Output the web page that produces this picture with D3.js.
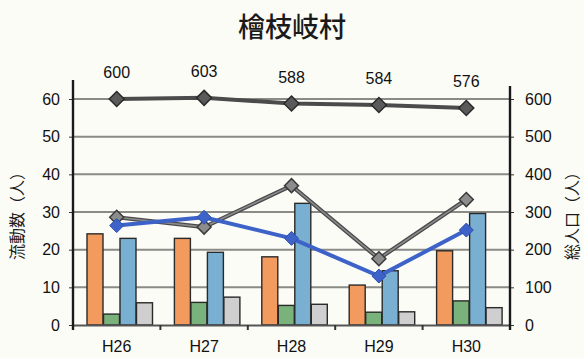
<!DOCTYPE html>
<html>
<head>
<meta charset="utf-8">
<script src="https://cdn.jsdelivr.net/npm/d3@7"></script>
<style>
  html, body { margin: 0; padding: 0; background: #fcfcf7; }
  svg { display: block; }
  .num { font-family: "Liberation Sans Narrow", "Liberation Sans", Arial, sans-serif; fill: #111; }
  .jp { font-family: "Noto Sans CJK JP", sans-serif; fill: #1a1a1a; }
</style>
</head>
<body>
<svg id="chart" width="584" height="358"></svg>
<script>
// 年度
const years = ["H26", "H27", "H28", "H29", "H30"];
// 流動数（人）— 棒グラフ 4 系列
const barOrange = [24.2, 23.0, 18.1, 10.6, 19.7];
const barGreen  = [2.9, 6.0, 5.2, 3.4, 6.4];
const barBlue   = [23.0, 19.3, 32.3, 14.4, 29.6];
const barGray   = [5.9, 7.4, 5.5, 3.5, 4.6];
// 流動数（人）— 折れ線 2 系列
const lineGray  = [28.6, 26.0, 37.0, 17.6, 33.3];
const lineBlue  = [26.4, 28.6, 23.0, 13.0, 25.2];
// 総人口（人）
const population = [600, 603, 588, 584, 576];
// 目盛
const leftTicks  = [0, 10, 20, 30, 40, 50, 60];
const rightTicks = [0, 100, 200, 300, 400, 500, 600];

const barSeries = [
  { values: barOrange, fill: "#f39a5f" },
  { values: barGreen,  fill: "#79b27a" },
  { values: barBlue,   fill: "#79afd0" },
  { values: barGray,   fill: "#cfcfcf" }
];

const svg = d3.select("#chart");
const plot = { left: 73, right: 510, top: 99, bottom: 325 };

const x = d3.scaleBand().domain(years).range([plot.left, plot.right]);
const yL = d3.scaleLinear().domain([0, 60]).range([plot.bottom, plot.top]);
const yR = d3.scaleLinear().domain([0, 600]).range([plot.bottom, plot.top]);

// 菱形マーカー（正方形を 45° 回転）
const rhombus = r => `M0,${-r}L${r},0L0,${r}L${-r},0Z`;

// タイトル
svg.append("text").attr("class", "jp")
  .attr("x", 292).attr("y", 37).attr("text-anchor", "middle")
  .attr("font-size", 27).attr("font-weight", 500).text("檜枝岐村");

// 目盛線
svg.append("g").selectAll("line").data(leftTicks.filter(d => d > 0)).join("line")
  .attr("x1", plot.left).attr("x2", plot.right)
  .attr("y1", d => yL(d)).attr("y2", d => yL(d))
  .attr("stroke", "#8a8a86").attr("stroke-width", 2);

// 棒
const inner = { left: 14, width: 16 };
barSeries.forEach((s, si) => {
  svg.append("g").selectAll("rect").data(s.values).join("rect")
    .attr("x", (d, i) => x(years[i]) + inner.left + si * (inner.width + 0.5))
    .attr("width", inner.width)
    .attr("y", d => yL(d))
    .attr("height", d => yL(0) - yL(d))
    .attr("fill", s.fill)
    .attr("stroke", "#2a2a2a").attr("stroke-width", 1.4);
});

// 横軸
const gx = svg.append("g").attr("transform", `translate(0,${plot.bottom})`)
  .call(d3.axisBottom(x).tickSize(0).tickPadding(16));
gx.select(".domain").attr("stroke", "#555").attr("stroke-width", 2.2);
gx.selectAll("text").attr("class", "num").attr("font-size", 16);
svg.append("g").selectAll("line").data(years.slice(1).concat([null])).join("line")
  .attr("x1", d => d ? x(d) : plot.right).attr("x2", d => d ? x(d) : plot.right)
  .attr("y1", plot.bottom).attr("y2", plot.bottom + 5)
  .attr("stroke", "#333").attr("stroke-width", 2);

// 左軸
const gl = svg.append("g").attr("transform", `translate(${plot.left},0)`)
  .call(d3.axisLeft(yL).tickValues(leftTicks).tickSize(4).tickPadding(9));
gl.select(".domain").remove();
gl.selectAll("line").attr("stroke", "#333");
gl.selectAll("text").attr("class", "num").attr("font-size", 16);
svg.append("line").attr("x1", plot.left).attr("x2", plot.left)
  .attr("y1", 80).attr("y2", plot.bottom + 5).attr("stroke", "#1a1a1a").attr("stroke-width", 2.4);

// 右軸
const gr = svg.append("g").attr("transform", `translate(${plot.right},0)`)
  .call(d3.axisRight(yR).tickValues(rightTicks).tickSize(4).tickPadding(11));
gr.select(".domain").remove();
gr.selectAll("line").attr("stroke", "#333");
gr.selectAll("text").attr("class", "num").attr("font-size", 16);
svg.append("line").attr("x1", plot.right).attr("x2", plot.right)
  .attr("y1", 86).attr("y2", plot.bottom + 5).attr("stroke", "#1a1a1a").attr("stroke-width", 2.4);

// 軸タイトル
svg.append("text").attr("class", "jp").attr("font-size", 16)
  .attr("transform", `translate(23,212) rotate(-90)`).attr("text-anchor", "middle")
  .text("流動数（人）");
svg.append("text").attr("class", "jp").attr("font-size", 16)
  .attr("transform", `translate(578,212) rotate(-90)`).attr("text-anchor", "middle")
  .text("総人口（人）");

const cx = d => x(d) + x.bandwidth() / 2;
const lineL = d3.line().x((d, i) => cx(years[i])).y(d => yL(d));
const lineR = d3.line().x((d, i) => cx(years[i])).y(d => yR(d));

// 折れ線（灰）
svg.append("path").datum(lineGray).attr("d", lineL)
  .attr("fill", "none").attr("stroke", "#4a4a4a").attr("stroke-width", 4.2);
svg.append("path").datum(lineGray).attr("d", lineL)
  .attr("fill", "none").attr("stroke", "#8c8c8c").attr("stroke-width", 1.6);
svg.append("g").selectAll("path").data(lineGray).join("path")
  .attr("d", rhombus(7))
  .attr("transform", (d, i) => `translate(${cx(years[i])},${yL(d)})`)
  .attr("fill", "#8c8c8c").attr("stroke", "#3a3a3a").attr("stroke-width", 1.5);

// 折れ線（青）
svg.append("path").datum(lineBlue).attr("d", lineL)
  .attr("fill", "none").attr("stroke", "#3d62c8").attr("stroke-width", 4);
svg.append("g").selectAll("path").data(lineBlue).join("path")
  .attr("d", rhombus(7))
  .attr("transform", (d, i) => `translate(${cx(years[i])},${yL(d)})`)
  .attr("fill", "#3d62c8").attr("stroke", "#2f4fae").attr("stroke-width", 1);

// 総人口
svg.append("path").datum(population).attr("d", lineR)
  .attr("fill", "none").attr("stroke", "#4b4b4b").attr("stroke-width", 4);
svg.append("g").selectAll("path").data(population).join("path")
  .attr("d", rhombus(7.5))
  .attr("transform", (d, i) => `translate(${cx(years[i])},${yR(d)})`)
  .attr("fill", "#5a5a5a").attr("stroke", "#2a2a2a").attr("stroke-width", 1.5);

// データラベル
svg.append("g").selectAll("text").data(population).join("text")
  .attr("class", "num").attr("font-size", 16).attr("text-anchor", "middle")
  .attr("x", (d, i) => cx(years[i]))
  .attr("y", d => yR(d) - 21)
  .text(d => d);
</script>
</body>
</html>
